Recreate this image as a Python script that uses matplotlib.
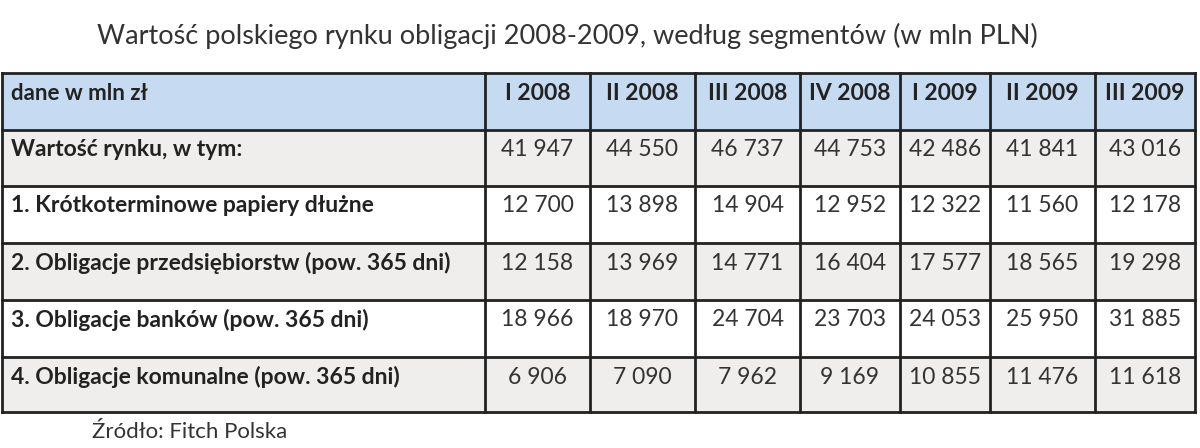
import matplotlib
matplotlib.use("Agg")
import matplotlib.pyplot as plt
from matplotlib.patches import Rectangle

plt.rcParams['font.family'] = ['Lato', 'DejaVu Sans']

title = "Wartość polskiego rynku obligacji 2008-2009, według segmentów (w mln PLN)"
corner = "dane w mln zł"
quarters = ["I 2008", "II 2008", "III 2008", "IV 2008", "I 2009", "II 2009", "III 2009"]
row_labels = [
    "Wartość rynku, w tym:",
    "1. Krótkoterminowe papiery dłużne",
    "2. Obligacje przedsiębiorstw (pow. 365 dni)",
    "3. Obligacje banków (pow. 365 dni)",
    "4. Obligacje komunalne (pow. 365 dni)",
]
values = [
    [41947, 44550, 46737, 44753, 42486, 41841, 43016],
    [12700, 13898, 14904, 12952, 12322, 11560, 12178],
    [12158, 13969, 14771, 16404, 17577, 18565, 19298],
    [18966, 18970, 24704, 23703, 24053, 25950, 31885],
    [6906, 7090, 7962, 9169, 10855, 11476, 11618],
]
source = "Źródło: Fitch Polska"

# layout in pixels
col_x = [2, 485, 590, 695, 800, 900, 990, 1095, 1195]
row_y = [73, 130, 186, 243, 300, 357, 412]
fills = ["#c6daf1", "#efeeed", "#ffffff", "#efeeed", "#ffffff", "#efeeed"]

fig = plt.figure(figsize=(12, 4.48), dpi=100)
ax = fig.add_axes([0, 0, 1, 1])
ax.set_xlim(0, 1200)
ax.set_ylim(448, 0)
ax.axis("off")

ax.text(567, 36, title, ha="center", va="center", fontsize=19.5, color="#333333")

def fmt(v):
    return f"{v:,}".replace(",", " ")

for r in range(len(row_y) - 1):
    y0, y1 = row_y[r], row_y[r + 1]
    ax.add_patch(Rectangle((col_x[0], y0), col_x[-1] - col_x[0], y1 - y0,
                           facecolor=fills[r], edgecolor="none"))
    ty = y0 + 20
    if r == 0:
        ax.text(col_x[0] + 9, ty, corner, ha="left", va="center",
                fontsize=16, fontweight="bold", color="#222222")
        for c, q in enumerate(quarters):
            ax.text((col_x[c + 1] + col_x[c + 2]) / 2, ty, q, ha="center", va="center",
                    fontsize=16.5, fontweight="bold", color="#222222")
    else:
        ax.text(col_x[0] + 9, ty, row_labels[r - 1], ha="left", va="center",
                fontsize=16.5, fontweight="bold", color="#222222")
        for c, v in enumerate(values[r - 1]):
            ax.text((col_x[c + 1] + col_x[c + 2]) / 2, ty, fmt(v), ha="center", va="center",
                    fontsize=16.5, color="#333333")

for y in row_y:
    ax.plot([col_x[0], col_x[-1]], [y, y], color="#222222", lw=2)
for x in col_x:
    ax.plot([x, x], [row_y[0], row_y[-1]], color="#222222", lw=2)

ax.text(92, 432, source, ha="left", va="center", fontsize=16, color="#333333")

fig.savefig("out.png", dpi=100)
